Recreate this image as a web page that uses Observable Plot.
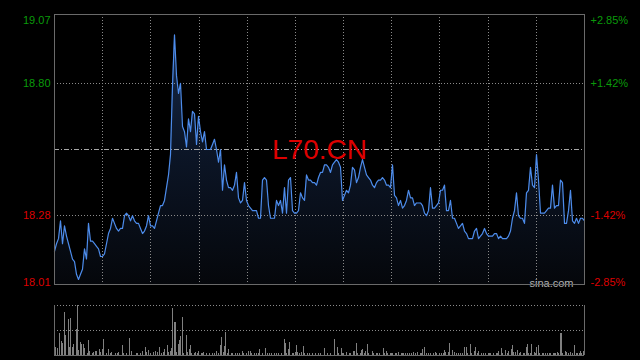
<!DOCTYPE html>
<html><head><meta charset="utf-8">
<script src="https://cdn.jsdelivr.net/npm/d3@7"></script>
<script src="https://cdn.jsdelivr.net/npm/@observablehq/plot@0.6"></script>
<style>
html,body{margin:0;padding:0;background:#000;overflow:hidden;width:640px;height:360px}
#chart svg{display:block}
</style>
</head><body><div id="chart"></div>
<script>
const symbol = "L70.CN";
const watermark = "sina.com";
const prevClose = 18.54;
const priceTicks = [19.07, 18.80, 18.28, 18.01];
const pctLabels = ["+2.85%", "+1.42%", "-1.42%", "-2.85%"];

// intraday price, evenly spaced samples across the session
const prices = [
18.14,18.17,18.19,18.26,18.17,18.24,18.20,18.17,18.14,18.11,
18.10,18.05,18.03,18.05,18.07,18.15,18.11,18.25,18.18,18.18,
18.17,18.16,18.15,18.12,18.12,18.13,18.17,18.21,18.23,18.27,
18.25,18.23,18.22,18.23,18.23,18.28,18.29,18.28,18.26,18.28,
18.26,18.25,18.25,18.23,18.21,18.22,18.24,18.28,18.24,18.24,
18.23,18.26,18.29,18.32,18.32,18.34,18.39,18.44,18.52,18.79,
18.99,18.83,18.76,18.80,18.63,18.61,18.55,18.66,18.61,18.69,
18.68,18.56,18.67,18.61,18.57,18.61,18.54,18.54,18.54,18.56,
18.58,18.54,18.49,18.54,18.38,18.48,18.42,18.39,18.39,18.38,
18.40,18.45,18.35,18.33,18.34,18.41,18.34,18.32,18.31,18.30,
18.30,18.30,18.27,18.27,18.42,18.43,18.42,18.32,18.27,18.27,
18.27,18.34,18.32,18.34,18.29,18.39,18.29,18.42,18.43,18.30,
18.29,18.29,18.30,18.37,18.35,18.34,18.44,18.42,18.42,18.41,
18.41,18.40,18.43,18.45,18.45,18.48,18.48,18.47,18.45,18.48,
18.49,18.50,18.49,18.47,18.34,18.36,18.38,18.37,18.40,18.47,
18.46,18.41,18.43,18.47,18.50,18.47,18.44,18.43,18.42,18.40,
18.39,18.41,18.42,18.42,18.43,18.42,18.40,18.40,18.39,18.48,
18.36,18.35,18.32,18.34,18.31,18.32,18.34,18.38,18.35,18.35,
18.32,18.33,18.33,18.33,18.32,18.29,18.28,18.30,18.39,18.31,
18.31,18.32,18.33,18.38,18.38,18.40,18.30,18.30,18.34,18.27,
18.27,18.25,18.23,18.24,18.25,18.22,18.21,18.19,18.19,18.19,
18.22,18.23,18.19,18.20,18.21,18.23,18.21,18.20,18.20,18.20,
18.21,18.21,18.19,18.20,18.19,18.19,18.19,18.20,18.22,18.27,
18.30,18.37,18.28,18.27,18.27,18.25,18.37,18.38,18.47,18.40,
18.39,18.52,18.42,18.29,18.29,18.29,18.30,18.31,18.31,18.40,
18.31,18.32,18.32,18.42,18.41,18.25,18.25,18.30,18.38,18.26,
18.25,18.27,18.25,18.27,18.27,18.26
];

// volume: minute of session (0-390) and volume in lots
const sessionMinutes = 390;
const volMinute = [1,2,4,5,6,7,8,10,11,12,13,14,16,17,18,19,20,21,22,24,25,26,28,29,30,31,33,34,35,36,38,40,41,42,45,46,47,50,51,53,55,57,60,61,63,65,67,68,69,71,73,74,76,77,79,80,81,83,84,85,86,87,88,89,90,91,92,93,94,95,97,98,99,100,101,103,104,105,106,108,109,110,112,114,116,118,119,121,122,123,124,125,126,127,128,130,131,133,135,136,138,139,141,143,144,145,147,149,150,151,153,155,157,158,160,162,163,165,167,169,170,171,172,173,175,176,177,178,179,180,182,183,184,186,188,190,192,194,196,199,201,203,206,208,209,211,212,213,215,217,218,220,221,222,223,225,226,227,228,229,230,231,234,235,237,238,239,242,243,244,245,247,248,249,251,252,253,255,256,257,258,260,261,263,264,266,267,269,270,271,272,274,275,277,279,280,281,283,285,286,287,288,290,291,293,294,296,297,299,300,302,303,304,306,307,309,310,311,312,314,316,317,319,320,321,323,325,326,327,329,330,332,333,334,336,337,338,339,341,342,343,345,346,347,348,349,350,351,353,354,355,356,357,359,360,361,363,364,365,367,368,369,370,371,372,373,374,376,377,378,380,381,383,384,385,386,387,388,389];
const volumeLots = [8,7,22,14,12,43,20,36,8,37,8,11,26,50,5,13,11,11,7,2,15,4,2,3,4,4,6,3,6,16,2,6,2,3,2,2,3,10,2,2,17,4,2,2,2,4,8,3,5,2,3,4,3,8,2,3,6,10,3,4,7,47,33,33,3,11,15,19,38,2,20,3,6,10,2,2,3,2,4,2,2,3,2,2,2,2,4,2,10,18,3,9,23,2,6,2,2,2,2,2,4,2,2,4,4,2,2,2,2,6,2,7,2,2,2,2,2,2,2,16,12,2,6,13,2,2,3,10,3,2,3,9,2,2,2,2,2,2,2,7,2,2,16,8,2,7,2,2,3,2,2,4,4,12,2,2,5,6,2,4,11,2,4,2,2,2,2,7,2,4,2,2,2,2,2,2,3,2,2,2,2,2,2,2,3,2,3,2,2,6,8,2,2,2,2,3,2,2,2,2,5,3,3,12,5,3,2,2,2,2,8,8,2,11,2,4,8,2,4,2,2,2,2,2,2,2,2,2,4,7,2,5,2,4,6,10,3,3,5,2,3,2,2,8,11,2,2,11,3,2,8,10,2,2,2,2,2,2,2,2,2,2,3,2,22,22,2,4,3,2,3,2,10,2,2,2,4,2,4];

const green = "#0a9a0a", red = "#dd0000";
const font = "Arial, 'Liberation Sans', sans-serif";
const priceData = prices.map((p, i) => ({i, p}));
const nX = prices.length - 1;
const xGrid = d3.range(1, 11).map(k => k * nX / 11);
const yLo = priceTicks[3], yHi = priceTicks[0];
const tickColor = v => v > prevClose ? green : red;
const tickIdx = priceTicks.map((v, k) => k);

const gradDefs = () => {
  const defs = d3.create("svg:defs");
  const g = defs.append("linearGradient").attr("id", "pg")
    .attr("x1", 0).attr("y1", 0).attr("x2", 0).attr("y2", 1);
  g.append("stop").attr("offset", "0%").attr("stop-color", "#16294a");
  g.append("stop").attr("offset", "45%").attr("stop-color", "#0c1628");
  g.append("stop").attr("offset", "100%").attr("stop-color", "#05070b");
  return defs.node();
};

const labelMarks = (sideAnchor, dx, textAnchor, textFn) => [
  Plot.text([0], {frameAnchor: sideAnchor, y: k => priceTicks[k], text: textFn, dx, dy: 2, textAnchor, lineAnchor: "top", fill: k => tickColor(priceTicks[k]), fontSize: 11}),
  Plot.text([1, 2], {frameAnchor: sideAnchor, y: k => priceTicks[k], text: textFn, dx, textAnchor, fill: k => tickColor(priceTicks[k]), fontSize: 11}),
  Plot.text([3], {frameAnchor: sideAnchor, y: k => priceTicks[k], text: textFn, dx, dy: 1, textAnchor, lineAnchor: "bottom", fill: k => tickColor(priceTicks[k]), fontSize: 11})
];

const pricePlot = Plot.plot({
  width: 640, height: 290,
  marginLeft: 54, marginRight: 56, marginTop: 14, marginBottom: 6,
  style: {background: "#000", fontFamily: font, overflow: "visible"},
  x: {domain: [0, nX], axis: null},
  y: {domain: [yLo, yHi], axis: null},
  marks: [
    gradDefs,
    Plot.areaY(priceData, {x: "i", y1: yLo, y2: "p", fill: "url(#pg)"}),
    Plot.ruleX(xGrid, {stroke: "#8a8a8a", strokeDasharray: "1,2", shapeRendering: "crispEdges"}),
    Plot.ruleY([priceTicks[1], priceTicks[2]], {stroke: "#8a8a8a", strokeDasharray: "1,2", shapeRendering: "crispEdges"}),
    Plot.ruleY([prevClose], {stroke: "#a8a8a8", strokeDasharray: "5,2,1,2", shapeRendering: "crispEdges"}),
    Plot.text([symbol], {x: nX / 2, y: prevClose, dy: 1, text: d => d, fill: red, fontSize: 28}),
    Plot.text([watermark], {frameAnchor: "bottom-right", text: d => d, dx: -11, dy: 2, textAnchor: "end", lineAnchor: "bottom", fill: "#b0b0b0", fontSize: 11}),
    Plot.lineY(priceData, {x: "i", y: "p", stroke: "#4d8ceb", strokeWidth: 1.2}),
    Plot.frame({stroke: "#6a6a6a", shapeRendering: "crispEdges"}),
    ...labelMarks("left", -4, "end", k => priceTicks[k].toFixed(2)),
    ...labelMarks("right", 6, "start", k => pctLabels[k])
  ]
});

const volData = volMinute.map((m, k) => ({m, v: volumeLots[k]}));
const vMax = d3.max(volumeLots);
const volPlot = Plot.plot({
  width: 640, height: 70,
  marginLeft: 54, marginRight: 56, marginTop: 15, marginBottom: 5,
  style: {background: "#000", fontFamily: font},
  x: {domain: [0, sessionMinutes], axis: null},
  y: {domain: [0, vMax], axis: null},
  marks: [
    Plot.ruleY([vMax, vMax / 2], {stroke: "#8a8a8a", strokeDasharray: "1,2", shapeRendering: "crispEdges"}),
    Plot.ruleX(volData, {x: "m", y1: 0, y2: "v", stroke: "#808080", strokeWidth: 1, shapeRendering: "crispEdges"}),
    Plot.ruleY([0], {stroke: "#6a6a6a", shapeRendering: "crispEdges"}),
    Plot.ruleX([0, sessionMinutes], {stroke: "#6a6a6a", shapeRendering: "crispEdges"})
  ]
});

const root = document.getElementById("chart");
root.appendChild(pricePlot);
root.appendChild(volPlot);
</script>
</body></html>
